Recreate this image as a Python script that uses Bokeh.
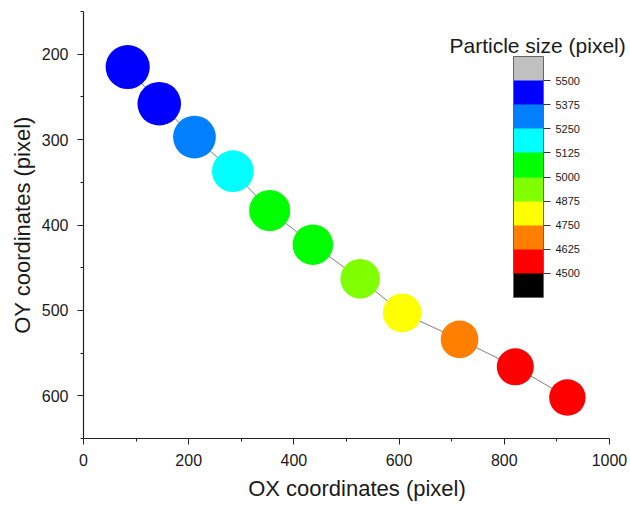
from bokeh.plotting import figure
from bokeh.models import (ColumnDataSource, LinearColorMapper, ColorBar, FixedTicker,
                          Range1d, Label)
from bokeh.embed import file_html
from bokeh.resources import INLINE

# ---- data ----
ox = [84, 144, 211, 284, 354, 436, 526, 606, 715, 821, 920]
oy = [215, 258, 297, 337, 383, 423, 463, 503, 534, 566, 602]
particle_size = [5470, 5400, 5300, 5180, 5100, 5020, 4900, 4800, 4680, 4600, 4520]

x_ticks = [0, 200, 400, 600, 800, 1000]
x_minor = [100, 300, 500, 700, 900]
y_ticks = [200, 300, 400, 500, 600]
y_minor = [150, 250, 350, 450, 550, 650]
cbar_ticks = [4500, 4625, 4750, 4875, 5000, 5125, 5250, 5375, 5500]
palette = ["#000000", "#FF0000", "#FF8000", "#FFFF00", "#80FF00",
           "#00FF00", "#00FFFF", "#0080FF", "#0000FF", "#C0C0C0"]

FONT = "Liberation Sans"
px_per_size = 1 / 124.0  # marker diameter proportional to particle size

src = ColumnDataSource(dict(x=ox, y=oy, v=particle_size,
                            d=[v * px_per_size for v in particle_size]))

mapper = LinearColorMapper(palette=palette, low=4375, high=5625)

p = figure(frame_width=547, frame_height=427,
           min_border_left=83, min_border_right=0, min_border_top=11, min_border_bottom=66,
           x_range=Range1d(0, 1040), y_range=Range1d(650, 150),
           output_backend="svg", toolbar_location=None)
p.outline_line_color = None
p.xgrid.visible = False
p.ygrid.visible = False
p.background_fill_color = "white"
p.border_fill_color = "white"

p.line("x", "y", source=src, line_color="#808080", line_width=1)
p.scatter("x", "y", source=src, size="d", marker="circle",
          fill_color={"field": "v", "transform": mapper}, line_color=None)

for ax in (p.xaxis[0], p.yaxis[0]):
    ax.axis_line_color = "#222222"
    ax.axis_line_width = 1.2
    ax.major_tick_line_color = "#222222"
    ax.minor_tick_line_color = "#222222"
    ax.major_tick_in = 0
    ax.major_tick_out = 6
    ax.minor_tick_in = 0
    ax.minor_tick_out = 3
    ax.major_label_text_font = FONT
    ax.major_label_text_font_size = "16px"
    ax.major_label_text_color = "#1a1a1a"
    ax.axis_label_text_font = FONT
    ax.axis_label_text_font_size = "22px"
    ax.axis_label_text_font_style = "normal"
    ax.axis_label_text_color = "#1a1a1a"

p.xaxis[0].bounds = (0, 1000)
p.xaxis[0].major_label_standoff = 9
p.xaxis[0].axis_label_standoff = 7
p.yaxis[0].major_label_standoff = 9
p.yaxis[0].axis_label_standoff = 4

p.xaxis[0].ticker = FixedTicker(ticks=x_ticks, minor_ticks=x_minor)
p.yaxis[0].ticker = FixedTicker(ticks=y_ticks, minor_ticks=y_minor)
p.xaxis[0].axis_label = "OX coordinates (pixel)"
p.yaxis[0].axis_label = "OY coordinates (pixel)"

cb = ColorBar(color_mapper=mapper, ticker=FixedTicker(ticks=cbar_ticks),
              location=(430, 141), width=30, height=241, padding=0,
              orientation="vertical",
              bar_line_color="#666666", bar_line_width=1,
              major_tick_in=0, major_tick_out=7, major_tick_line_color="#333333",
              minor_tick_line_color=None,
              label_standoff=5,
              major_label_text_font=FONT, major_label_text_font_size="11px",
              major_label_text_color="#1a1a1a",
              background_fill_alpha=0, border_line_color=None)
p.add_layout(cb)

title = Label(x=366, y=393, x_units="screen", y_units="screen",
              text="Particle size (pixel)", text_font=FONT, text_font_size="21px",
              text_color="#1a1a1a", text_baseline="alphabetic")
p.add_layout(title)

open("out.html", "w").write(file_html(p, INLINE))
